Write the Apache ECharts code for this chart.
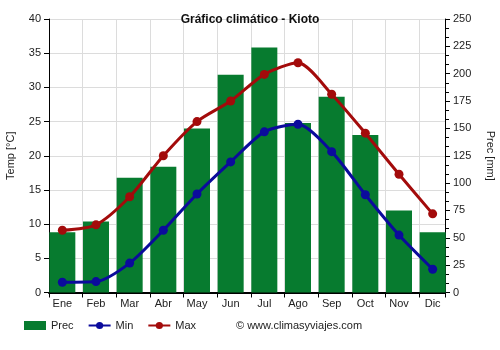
<!DOCTYPE html>
<html>
<head>
<meta charset="utf-8">
<script src="https://cdn.jsdelivr.net/npm/echarts@6/dist/echarts.min.js"></script>
<style>
  html, body { margin: 0; padding: 0; background: #fff; }
  #chart { width: 500px; height: 350px; }
</style>
</head>
<body>
<div id="chart"></div>
<script>
// Monthly climate data for Kyoto
const months = ['Ene', 'Feb', 'Mar', 'Abr', 'May', 'Jun', 'Jul', 'Ago', 'Sep', 'Oct', 'Nov', 'Dic'];
const precip = [55, 65, 105, 115, 150, 199, 224, 155, 179, 144, 75, 55];
const tempMin = [1.5, 1.6, 4.3, 9.1, 14.4, 19.1, 23.5, 24.6, 20.6, 14.3, 8.4, 3.4];
const tempMax = [9.1, 9.9, 14.0, 20.0, 25.0, 28.0, 31.9, 33.6, 29.0, 23.3, 17.3, 11.5];

const FONT = 'Arial, Liberation Sans, sans-serif';
const textColor = '#222';
const gridColor = '#dcdcdc';

const chart = echarts.init(document.getElementById('chart'));
chart.setOption({
  animation: false,
  title: {
    text: 'Gráfico climático - Kioto',
    left: 'center',
    top: 9,
    textStyle: { fontFamily: FONT, fontSize: 12, fontWeight: 'bold', color: '#111' }
  },
  // grid 0: frame, axes and guide lines; grid 1: the data series (month slots)
  grid: [
    { left: 49, right: 55, top: 19, bottom: 57.5, containLabel: false, outerBoundsMode: 'none' },
    { left: 45.5, right: 50.5, top: 19, bottom: 57.5, containLabel: false, outerBoundsMode: 'none' }
  ],
  legend: {
    bottom: 14,
    left: 19,
    itemGap: 14,
    itemWidth: 22,
    itemHeight: 9,
    textStyle: { fontFamily: FONT, fontSize: 11, color: '#222' },
    data: [
      { name: 'Prec', icon: 'rect' },
      { name: 'Min' },
      { name: 'Max' }
    ]
  },
  graphic: [{
    type: 'text',
    left: 236,
    top: 320,
    style: {
      text: '© www.climasyviajes.com',
      font: '11px ' + FONT,
      fill: '#222'
    }
  }],
  xAxis: [{
    // frame axis: vertical guide lines and ticks between months
    gridIndex: 0,
    type: 'value',
    min: 0,
    max: 11.76,
    interval: 1,
    axisLine: { show: true, onZero: false, lineStyle: { color: '#000', width: 2 } },
    axisTick: { show: true, length: 5, lineStyle: { color: '#000' } },
    axisLabel: { show: false },
    splitLine: { show: true, lineStyle: { color: gridColor } }
  }, {
    // month axis carrying the labels and the series
    gridIndex: 1,
    type: 'category',
    data: months,
    axisLine: { show: false },
    axisTick: { show: false },
    axisLabel: { color: textColor, fontFamily: FONT, fontSize: 11, margin: 6 },
    splitLine: { show: false }
  }],
  yAxis: [{
    gridIndex: 0,
    type: 'value',
    name: 'Temp [°C]',
    nameLocation: 'middle',
    nameGap: 33,
    nameRotate: 90,
    nameTextStyle: { color: textColor, fontFamily: FONT, fontSize: 11 },
    min: 0, max: 40, interval: 5,
    axisLine: { show: true, onZero: false, lineStyle: { color: '#000' } },
    axisTick: { show: true, length: 5, lineStyle: { color: '#000' } },
    axisLabel: { color: textColor, fontFamily: FONT, fontSize: 11, margin: 8 },
    splitLine: { show: true, lineStyle: { color: gridColor } }
  }, {
    gridIndex: 0,
    type: 'value',
    position: 'right',
    name: 'Prec [mm]',
    nameLocation: 'middle',
    nameGap: 40,
    nameRotate: -90,
    nameTextStyle: { color: textColor, fontFamily: FONT, fontSize: 11 },
    min: 0, max: 250, interval: 25,
    axisLine: { show: true, onZero: false, lineStyle: { color: '#000' } },
    axisTick: { show: true, length: 5, lineStyle: { color: '#000' } },
    minorTick: { show: true, splitNumber: 3, length: 4, lineStyle: { color: '#000' } },
    axisLabel: { color: textColor, fontFamily: FONT, fontSize: 11, margin: 8 },
    splitLine: { show: false }
  }, {
    gridIndex: 1, type: 'value', min: 0, max: 40, show: false
  }, {
    gridIndex: 1, type: 'value', min: 0, max: 250, show: false
  }],
  series: [{
    name: 'Prec',
    type: 'bar',
    xAxisIndex: 1,
    yAxisIndex: 3,
    data: precip,
    barWidth: 26,
    itemStyle: { color: '#077b2f' },
    z: 1
  }, {
    name: 'Min',
    type: 'line',
    xAxisIndex: 1,
    yAxisIndex: 2,
    data: tempMin,
    smooth: 0.25,
    symbol: 'circle',
    symbolSize: 9,
    lineStyle: { color: '#0b0b9c', width: 3 },
    itemStyle: { color: '#0b0b9c' },
    z: 3
  }, {
    name: 'Max',
    type: 'line',
    xAxisIndex: 1,
    yAxisIndex: 2,
    data: tempMax,
    smooth: 0.25,
    symbol: 'circle',
    symbolSize: 9,
    lineStyle: { color: '#a30b0b', width: 3 },
    itemStyle: { color: '#a30b0b' },
    z: 3
  }]
});
</script>
</body>
</html>
